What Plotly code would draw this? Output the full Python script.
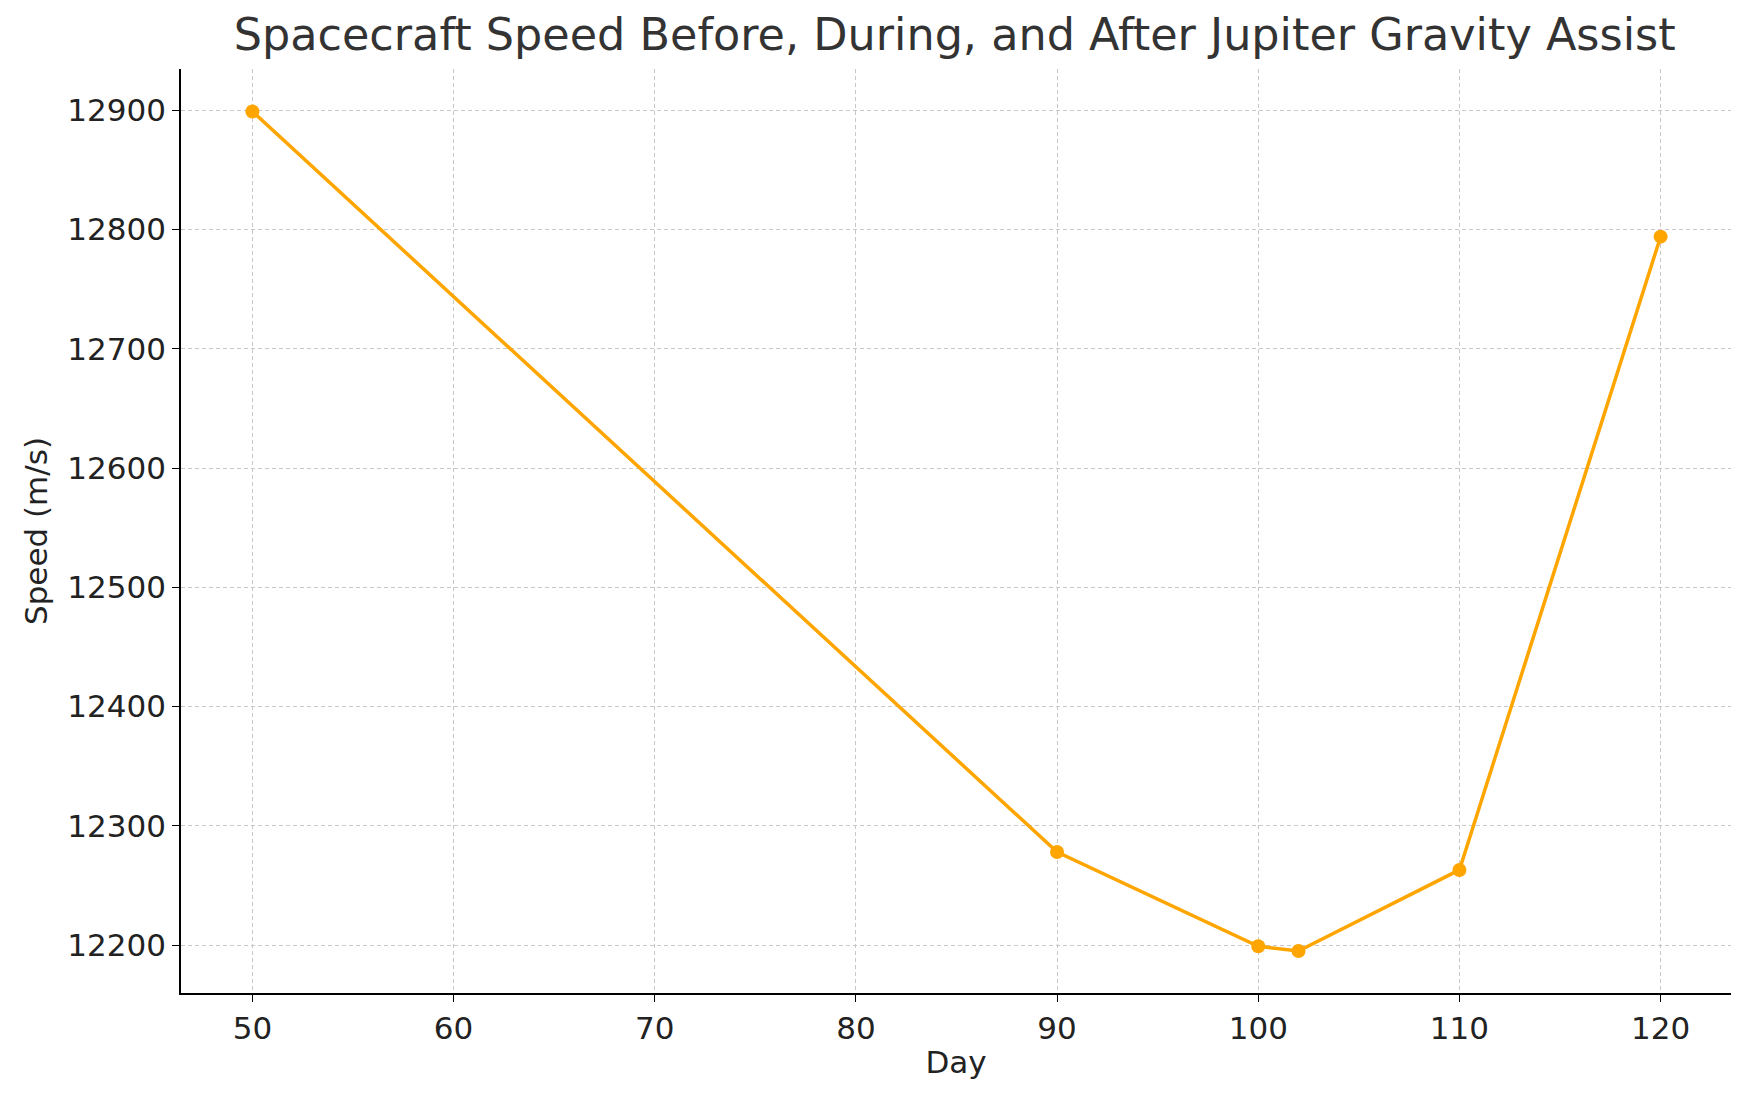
import plotly.graph_objects as go

days = [50, 90, 100, 102, 110, 120]
speeds = [12899, 12278, 12199, 12195, 12263, 12794]

fig = go.Figure()
fig.add_trace(go.Scatter(x=days, y=speeds, mode="lines+markers",
                         line=dict(color="#FFA500", width=3.5),
                         marker=dict(color="#FFA500", size=14)))

axis_common = dict(showgrid=True, gridcolor="#c8c8c8", griddash="4px,3px", gridwidth=1,
                   showline=True, linecolor="black", linewidth=1.8,
                   ticks="outside", ticklen=7, tickcolor="black",
                   tickfont=dict(size=31, color="#222"), zeroline=False)

fig.update_layout(
    width=1750, height=1101,
    paper_bgcolor="white", plot_bgcolor="white",
    font=dict(family="DejaVu Sans", color="#222"),
    title=dict(text="Spacecraft Speed Before, During, and After Jupiter Gravity Assist",
               x=0.541, xanchor="center", y=0.99, yanchor="top",
               font=dict(size=44.5, color="#333")),
    margin=dict(l=173, r=27, t=61, b=116),
    showlegend=False,
    xaxis=dict(title=dict(text="Day", font=dict(size=31), standoff=6),
               range=[46.45, 123.5], dtick=10, **axis_common),
    yaxis=dict(title=dict(text="Speed (m/s)", font=dict(size=31), standoff=10),
               range=[12159.8, 12934.6], dtick=100, tickformat="d", **axis_common),
)

fig.write_html("out.html")
